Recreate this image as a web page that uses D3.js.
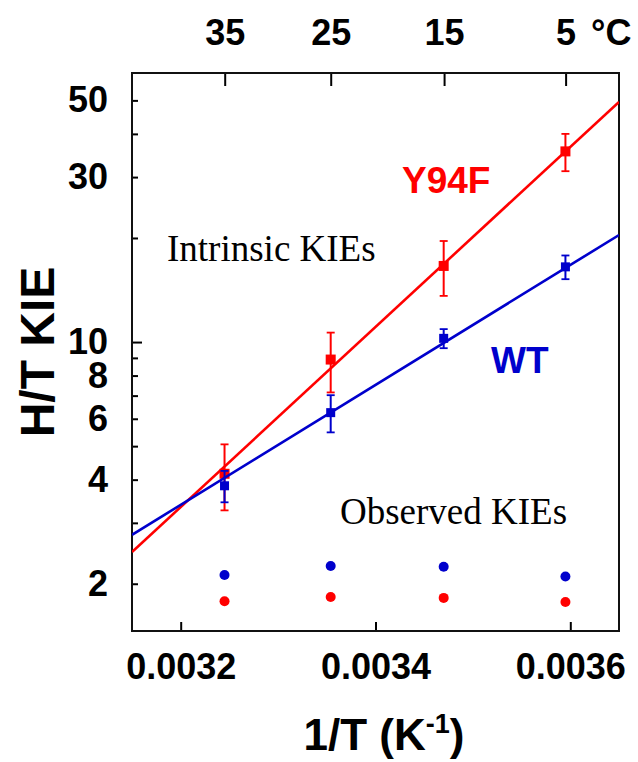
<!DOCTYPE html>
<html>
<head>
<meta charset="utf-8">
<script src="https://cdn.jsdelivr.net/npm/d3@7"></script>
<style>
  body { margin: 0; background: #fff; }
  svg { display: block; }
</style>
</head>
<body>
<svg id="chart" width="638" height="762"></svg>
<script>
// 1/T of each measuring temperature (35, 25, 15, 5 C)
var invT = [0.003245, 0.003354, 0.003470, 0.003595];
var topTempsC = [35, 25, 15, 5];

// intrinsic KIEs with error
var y94fKIE = [4.16, 8.9, 16.6, 35.6];
var y94fErr = [0.9, 1.75, 3.0, 4.4];
var wtKIE = [3.84, 6.25, 10.25, 16.5];
var wtErr = [0.4, 0.77, 0.65, 1.3];

// observed KIEs
var obsWT = [2.12, 2.25, 2.24, 2.10];
var obsY94F = [1.78, 1.83, 1.82, 1.77];

// fitted Arrhenius lines (ends at the axis limits)
var fitX = [0.00315, 0.00365];
var fitY94F = [2.47, 49.5];
var fitWT = [2.77, 20.4];

// axis ticks
var xTicks = [0.0032, 0.0034, 0.0036];
var yTicks = [2, 3, 4, 5, 6, 7, 8, 9, 10, 20, 30, 40, 50];
var yLabels = [2, 4, 6, 8, 10, 30, 50];

drawChart();

function drawChart()
{
  var RED = "#ff0000", BLUE = "#0000cc";
  var pLeft = 132, pRight = 619, pTop = 73, pBottom = 631;

  var svg = d3.select("#chart");

  var x = d3.scaleLinear().domain([0.00315, 0.00365]).range([pLeft, pRight]);
  var y = d3.scaleLog().domain([1.46, 60]).range([pBottom, pTop]);

  var sans = "'Liberation Sans', Arial, sans-serif";
  var serif = "'Liberation Serif', 'Times New Roman', serif";

  // clip area for the lines
  svg.append("clipPath").attr("id", "plotclip")
    .append("rect").attr("x", pLeft).attr("y", pTop)
    .attr("width", pRight - pLeft).attr("height", pBottom - pTop);

  // left axis
  var yAxis = d3.axisLeft(y)
    .tickValues(yTicks)
    .tickSize(-6)
    .tickPadding(24)
    .tickFormat(function(d) { return yLabels.indexOf(d) >= 0 ? d : ""; });
  var gy = svg.append("g").attr("transform", "translate(" + pLeft + ",0)").call(yAxis);
  gy.select(".domain").remove();
  gy.selectAll(".tick line").attr("stroke-width", 2)
    .attr("x2", function(d) { return d == 10 ? 10 : 6; });

  // bottom axis
  var xAxis = d3.axisBottom(x).tickValues(xTicks).tickSize(-9).tickPadding(22)
    .tickFormat(d3.format(".4f"));
  var gx = svg.append("g").attr("transform", "translate(0," + pBottom + ")").call(xAxis);
  gx.select(".domain").remove();
  gx.selectAll(".tick line").attr("stroke-width", 2);

  // top axis in degrees C
  var topAxis = d3.axisTop(x)
    .tickValues(topTempsC.map(function(t) { return 1 / (t + 273.15); }))
    .tickSize(-13).tickPadding(28)
    .tickFormat(function(d, i) { return topTempsC[i]; });
  var gt = svg.append("g").attr("transform", "translate(0," + pTop + ")").call(topAxis);
  gt.select(".domain").remove();
  gt.selectAll(".tick line").attr("stroke-width", 2);

  svg.selectAll(".tick text")
    .attr("font-family", sans).attr("font-weight", "bold")
    .attr("font-size", 36).attr("fill", "#000");

  svg.append("text").attr("x", 591).attr("y", 45)
    .attr("font-family", sans).attr("font-weight", "bold").attr("font-size", 36)
    .text("°C");

  // frame
  svg.append("rect").attr("x", pLeft).attr("y", pTop)
    .attr("width", pRight - pLeft).attr("height", pBottom - pTop)
    .attr("fill", "none").attr("stroke", "#111").attr("stroke-width", 2);

  // axis titles
  svg.append("text")
    .attr("transform", "translate(54,352) rotate(-90)")
    .attr("text-anchor", "middle")
    .attr("font-family", sans).attr("font-weight", "bold").attr("font-size", 48)
    .text("H/T KIE");

  var xt = svg.append("text").attr("x", 384).attr("y", 750)
    .attr("text-anchor", "middle")
    .attr("font-family", sans).attr("font-weight", "bold").attr("font-size", 44);
  xt.append("tspan").text("1/T (K");
  xt.append("tspan").attr("font-size", 27).attr("dy", -17).text("-1");
  xt.append("tspan").attr("dy", 17).text(")");

  // draw one intrinsic series: fit line, error bars, squares
  var line = d3.line().x(function(d) { return x(d[0]); }).y(function(d) { return y(d[1]); });

  function drawSeries(vals, errs, fit, color, size)
  {
    var g = svg.append("g");
    g.append("path")
      .datum(fitX.map(function(v, i) { return [v, fit[i]]; }))
      .attr("d", line).attr("clip-path", "url(#plotclip)")
      .attr("fill", "none").attr("stroke", color).attr("stroke-width", 2.6);

    var pts = vals.map(function(v, i) { return { x: invT[i], v: v, e: errs[i] }; });
    var eb = g.selectAll(".eb").data(pts).enter().append("g");
    eb.append("line")
      .attr("x1", function(d) { return x(d.x); }).attr("x2", function(d) { return x(d.x); })
      .attr("y1", function(d) { return y(d.v + d.e); }).attr("y2", function(d) { return y(d.v - d.e); })
      .attr("stroke", color).attr("stroke-width", 2);
    [1, -1].forEach(function(s) {
      eb.append("line")
        .attr("x1", function(d) { return x(d.x) - 4; }).attr("x2", function(d) { return x(d.x) + 4; })
        .attr("y1", function(d) { return y(d.v + s * d.e); }).attr("y2", function(d) { return y(d.v + s * d.e); })
        .attr("stroke", color).attr("stroke-width", 1.8);
    });
    g.selectAll(".sq").data(pts).enter().append("rect")
      .attr("x", function(d) { return x(d.x) - size / 2; })
      .attr("y", function(d) { return y(d.v) - size / 2; })
      .attr("width", size).attr("height", size)
      .attr("fill", color);
  }

  drawSeries(y94fKIE, y94fErr, fitY94F, RED, 10);
  drawSeries(wtKIE, wtErr, fitWT, BLUE, 9);

  // observed KIEs
  function drawDots(vals, color)
  {
    svg.append("g").selectAll("circle").data(vals).enter().append("circle")
      .attr("cx", function(d, i) { return x(invT[i]); })
      .attr("cy", function(d) { return y(d); })
      .attr("r", 5).attr("fill", color);
  }
  drawDots(obsWT, BLUE);
  drawDots(obsY94F, RED);

  // labels
  svg.append("text").attr("x", 402).attr("y", 193)
    .attr("font-family", sans).attr("font-weight", "bold").attr("font-size", 37)
    .attr("fill", RED).text("Y94F");
  svg.append("text").attr("x", 491).attr("y", 373)
    .attr("font-family", sans).attr("font-weight", "bold").attr("font-size", 37)
    .attr("fill", BLUE).text("WT");
  svg.append("text").attr("x", 167).attr("y", 261)
    .attr("font-family", serif).attr("font-size", 37)
    .text("Intrinsic KIEs");
  svg.append("text").attr("x", 340).attr("y", 524)
    .attr("font-family", serif).attr("font-size", 37)
    .text("Observed KIEs");
}
</script>
</body>
</html>
